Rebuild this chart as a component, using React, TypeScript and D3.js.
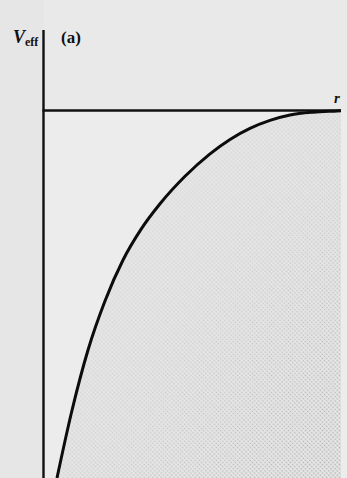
import React from "react";
import * as d3 from "d3";

// Effective potential V_eff(r): attractive well rising to zero at large r
const rValues = [0.136, 0.287, 0.449, 0.62, 0.802, 0.983, 1.175, 1.427, 1.679, 1.881, 2.082, 2.284, 2.486, 2.718, 2.96, 3.0];
const vValues = [-3.675, -3.0, -2.395, -1.905, -1.495, -1.189, -0.933, -0.658, -0.433, -0.289, -0.179, -0.099, -0.045, -0.017, -0.005, -0.003];
const rDomain = [0, 3];
const vDomain = [-3.675, 0];

const W = 347;
const H = 478;

export default function App() {
  const x = d3.scaleLinear().domain(rDomain).range([43.5, 341]);
  const y = d3.scaleLinear().domain(vDomain).range([H, 110.5]);
  const pts = rValues.map((r, i) => [r, vValues[i]] as [number, number]);

  const line = d3
    .line<[number, number]>()
    .x((d) => x(d[0]))
    .y((d) => y(d[1]))
    .curve(d3.curveMonotoneX);

  const area = d3
    .area<[number, number]>()
    .x((d) => x(d[0]))
    .y0(H)
    .y1((d) => y(d[1]))
    .curve(d3.curveMonotoneX);

  const x0 = x(0);
  const y0 = y(0);
  const areaPath = area(pts) ?? "";

  return (
    <svg
      width={W}
      height={H}
      style={{ position: "absolute", left: 0, top: 0, display: "block" }}
      fontFamily="'Liberation Serif', 'DejaVu Serif', serif"
    >
      <defs>
        <pattern
          id="screen"
          width={3}
          height={3}
          patternUnits="userSpaceOnUse"
          patternTransform="rotate(45)"
        >
          <circle cx={1.5} cy={1.5} r={0.8} fill="#9a9a9a" />
        </pattern>
        <linearGradient id="dens" x1="0" y1="0" x2="1" y2="1">
          <stop offset="0" stopColor="#fff" stopOpacity={0} />
          <stop offset="0.45" stopColor="#fff" stopOpacity={0.25} />
          <stop offset="1" stopColor="#fff" stopOpacity={0.8} />
        </linearGradient>
        <mask id="densMask" maskUnits="userSpaceOnUse" x={0} y={0} width={W} height={H}>
          <rect x={x0} y={y0} width={W - x0} height={H - y0} fill="url(#dens)" />
        </mask>
      </defs>

      {/* paper */}
      <rect x={0} y={0} width={W} height={H} fill="#e9e9e9" />
      <rect x={0} y={0} width={x0} height={H} fill="#e6e6e6" />
      <rect x={x0} y={y0} width={W - x0} height={H - y0} fill="#ececec" />

      {/* shaded region below the curve */}
      <path d={areaPath} fill="#e5e5e5" />
      <path d={areaPath} fill="url(#screen)" mask="url(#densMask)" />

      {/* axes */}
      <line x1={x0} x2={x0} y1={30} y2={H} stroke="#111" strokeWidth={2.4} />
      <line x1={x0 - 1} x2={x(3)} y1={y0} y2={y0} stroke="#111" strokeWidth={2.4} />

      {/* V_eff curve */}
      <path d={line(pts) ?? ""} fill="none" stroke="#0c0c0c" strokeWidth={3} />

      {/* labels */}
      <text x={13} y={43} fontSize={18} fontStyle="italic" fontWeight="bold" fill="#111">
        V
        <tspan fontSize={12} fontStyle="normal" dy={3}>eff</tspan>
      </text>
      <text x={61} y={43} fontSize={17} fontWeight="bold" fill="#111">
        (a)
      </text>
      <text x={334} y={103} fontSize={15} fontStyle="italic" fontWeight="bold" fill="#111">
        r
      </text>
    </svg>
  );
}
